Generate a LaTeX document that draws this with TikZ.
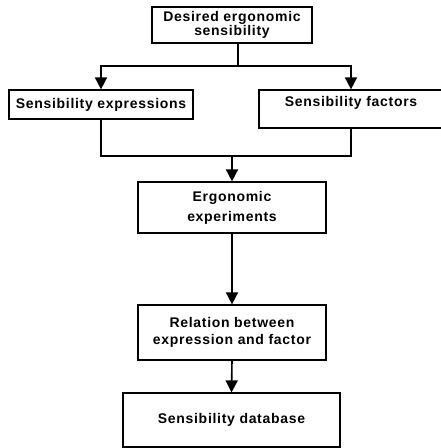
\documentclass[tikz,border=0pt]{standalone}
\usepackage{fontspec}
\setmainfont{Liberation Sans}[LetterSpace=5]
\usetikzlibrary{arrows.meta}
\begin{document}
\begin{tikzpicture}[x=1pt,y=-1pt,
  box/.style={draw,line width=1.2pt,inner sep=0pt,align=center,font=\fontsize{14}{13}\bfseries\selectfont},
  conn/.style={line width=1.6pt},
  arr/.style={conn,-{Triangle[width=12pt,length=12pt]}}]
\useasboundingbox (0,0) rectangle (441,448);
\node[box,minimum width=160pt,minimum height=36pt] (top) at (232,25) {Desired ergonomic\\sensibility};
\node[box,minimum width=184pt,minimum height=29pt] (left) at (101,104.5) {Sensibility expressions};
\node[box,minimum width=184pt,minimum height=38pt,text height=10pt,text depth=15pt] (right) at (351,109) {Sensibility factors};
\node[box,minimum width=188pt,minimum height=51pt,font=\fontsize{14}{20}\bfseries\selectfont] (exp) at (232,207.5) {Ergonomic\\experiments};
\node[box,minimum width=188pt,minimum height=55pt,font=\fontsize{14}{17}\bfseries\selectfont] (rel) at (232,332.5) {Relation between\\expression and factor};
\node[box,minimum width=217pt,minimum height=54pt] (db) at (231.5,420) {Sensibility database};
\coordinate (j1) at (238,66);
\coordinate (j2) at (232,156);
\draw[conn] ([xshift=6pt]top.south) -- (j1);
\draw[arr] (j1) -| (left.north);
\draw[arr] (j1) -| (right.north);
\draw[conn] (left.south) |- (j2);
\draw[conn] (right.south) |- (j2);
\draw[arr] (j2) -- (exp.north);
\draw[arr] (exp.south) -- (rel.north);
\draw[arr] (rel.south) -- (db.north);
\end{tikzpicture}
\end{document}
